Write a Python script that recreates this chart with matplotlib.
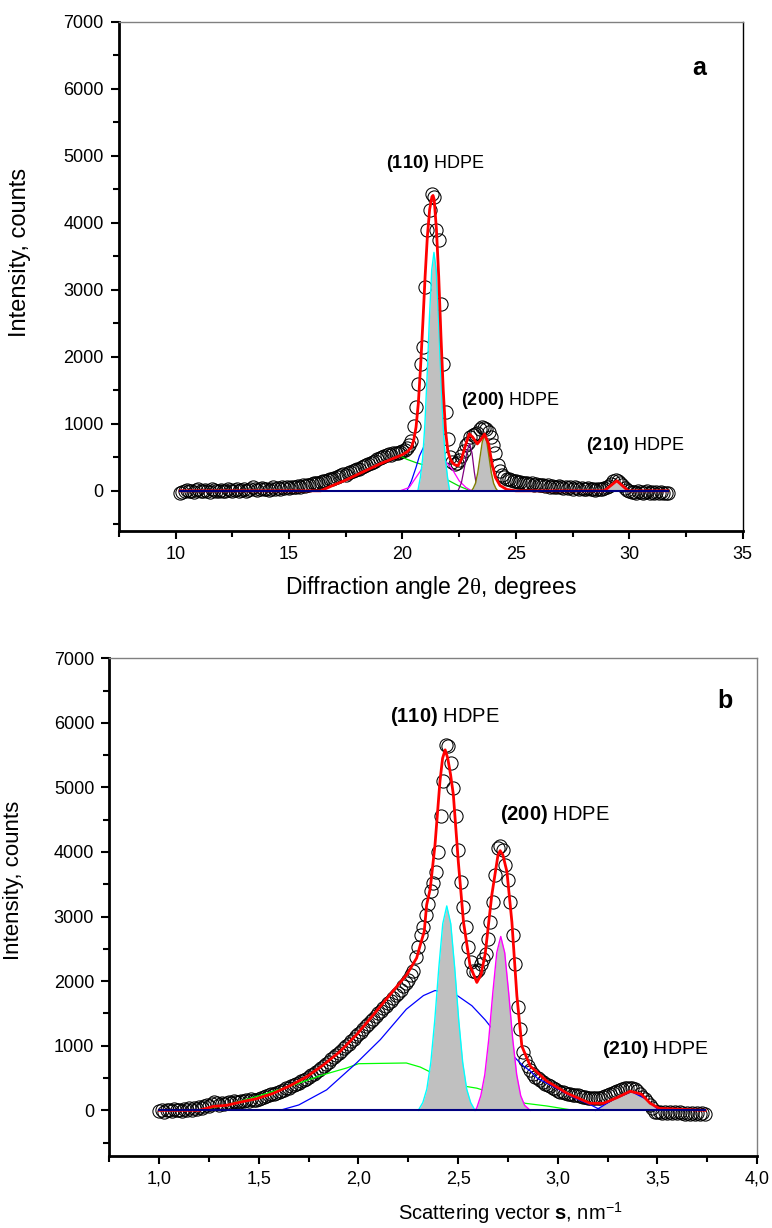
import numpy as np
import matplotlib.pyplot as plt
from matplotlib.ticker import MultipleLocator, FuncFormatter

plt.rcParams['font.family'] = ['Liberation Sans', 'DejaVu Sans']
plt.rcParams['mathtext.fontset'] = 'custom'
plt.rcParams['mathtext.rm'] = 'Liberation Sans'
plt.rcParams['mathtext.bf'] = 'Liberation Sans:bold'
plt.rcParams['mathtext.it'] = 'Liberation Serif'

# ---------------- panel a : intensity vs 2theta ----------------
obs_a_start, obs_a_step = 10.2, 0.1
obs_a_y = [-30, -20, -10, 10, -10, 0, -20, 10, 20, 0,
           -10, 10, 0, -20, 20, 10, -10, 0, 10, -10,
           0, 20, 10, -10, 10, 30, 0, 10, 20, 0,
           10, 30, 50, 20, 10, 30, 40, 20, 30, 10,
           30, 50, 20, 40, 30, 50, 40, 60, 40, 50,
           60, 50, 70, 60, 80, 70, 90, 80, 100, 110,
           120, 110, 130, 150, 140, 160, 180, 170, 190, 210,
           220, 230, 250, 240, 270, 280, 300, 310, 320, 330,
           350, 370, 380, 400, 420, 430, 450, 470, 490, 500,
           520, 530, 550, 540, 560, 570, 560, 580, 590, 610,
           640, 690, 747, 972, 1246, 1595, 1900, 2143, 3040, 3887,
           4200, 4435, 4385, 3900, 3738, 2791, 1894, 1171, 773, 500,
           424, 400, 410, 460, 520, 600, 680, 720, 800, 830,
           850, 870, 920, 950, 940, 930, 880, 800, 680, 560,
           380, 290, 230, 200, 180, 170, 160, 150, 140, 130,
           130, 120, 110, 120, 100, 110, 90, 100, 90, 80,
           90, 70, 80, 60, 70, 50, 60, 70, 50, 40,
           60, 40, 50, 30, 50, 40, 20, 40, 30, 20,
           40, 20, 30, 10, 30, 20, 20, 40, 50, 70,
           100, 140, 160, 150, 120, 80, 40, 10, -10, -20,
           -20, -30, -10, -20, -30, -20, -10, -30, -20, -30,
           -20, -30, -20, -30, -40, -40]

fit_a_x = [10.2, 16.4, 17.0, 17.5, 18.0, 18.5, 19.0, 19.5, 19.8, 20.0, 20.2, 20.4, 20.5,
           20.6, 20.7, 20.8, 20.9, 21.0, 21.1, 21.2, 21.3, 21.35, 21.4, 21.5, 21.6, 21.7,
           21.8, 21.9, 22.0, 22.1, 22.2, 22.3, 22.45, 22.6, 22.8, 22.95, 23.1, 23.3, 23.45,
           23.62, 23.8, 23.95, 24.1, 24.3, 24.6, 25.0, 28.9, 29.45, 29.95, 31.7]
fit_a_y = [0, 0, 90, 160, 240, 320, 400, 470, 510, 540, 580, 650, 760,
           950, 1300, 1850, 2500, 3200, 3800, 4200, 4390, 4410, 4350, 3900, 3200, 2300,
           1500, 900, 600, 480, 420, 390, 374, 470, 700, 850, 800, 700, 760,
           847, 700, 400, 200, 80, 20, 0, 0, 150, 0, 0]

green_a_x = [16.4, 17.0, 17.5, 18.0, 18.5, 19.0, 19.5, 19.9, 20.2, 20.6, 21.0, 21.5, 22.0, 22.5, 23.0]
green_a_y = [0, 90, 160, 240, 320, 400, 470, 520, 470, 420, 380, 300, 160, 70, 0]

blue_a_x = [20.2, 20.4, 20.6, 20.75, 21.0, 21.3, 21.6, 21.9]
blue_a_y = [0, 150, 350, 520, 700, 800, 600, 0]

magenta_a_x = [19.9, 20.3, 20.6, 21.0, 21.3, 21.6, 21.9, 22.2, 22.5, 22.8, 23.05]
magenta_a_y = [0, 50, 200, 400, 440, 460, 440, 320, 150, 50, 0]

purple_a_x = [22.45, 22.6, 22.75, 22.85, 22.97, 23.07, 23.17, 23.3]
purple_a_y = [0, 120, 380, 600, 700, 560, 280, 0]

p110_a_x = [20.68, 20.79, 20.89, 20.99, 21.09, 21.19, 21.29, 21.39, 21.49, 21.59, 21.69,
            21.79, 21.89, 21.99, 22.08]
p110_a_y = [0, 200, 480, 990, 1730, 2580, 3290, 3560, 3290, 2580, 1730, 990, 480, 200, 0]

p200_a_x = [23.04, 23.12, 23.22, 23.32, 23.42, 23.52, 23.62, 23.72, 23.82, 23.92, 24.02, 24.12, 24.2]
p200_a_y = [0, 36, 111, 268, 500, 728, 825, 728, 500, 268, 111, 36, 0]

p210_a_x = [28.9, 29.45, 29.95]
p210_a_y = [0, 150, 0]

# ---------------- panel b : intensity vs scattering vector ----------------
obs_b_start, obs_b_step = 1.0, 0.0125
obs_b_y = [-10, 0, -20, 10, 0, -10, 20, 0,
           10, -10, 20, 0, 30, 10, 40, 20,
           50, 30, 60, 80, 60, 100, 130, 110,
           90, 120, 100, 110, 130, 110, 140, 130,
           135, 150, 140, 160, 150, 170, 160, 165,
           180, 190, 200, 220, 230, 250, 260, 275,
           290, 300, 320, 340, 350, 370, 390, 410,
           430, 450, 470, 490, 510, 540, 570, 600,
           630, 660, 690, 720, 750, 790, 820, 850,
           880, 920, 960, 1000, 1030, 1070, 1110, 1150,
           1180, 1220, 1260, 1300, 1340, 1380, 1420, 1460,
           1500, 1540, 1580, 1620, 1660, 1700, 1740, 1780,
           1820, 1870, 1920, 1970, 2020, 2090, 2160, 2380,
           2526, 2708, 2838, 3020, 3202, 3400, 3513, 3695,
           4007, 4553, 5098, 5650, 5640, 5384, 4993, 4552,
           4032, 3540, 3150, 2838, 2526, 2292, 2162, 2136,
           2180, 2266, 2350, 2422, 2656, 2916, 3228, 3643,
           4059, 4085, 4033, 3800, 3565, 3228, 2708, 2266,
           1600, 1252, 900, 780, 690, 628, 570, 520,
           499, 470, 440, 410, 390, 370, 350, 330,
           300, 291, 280, 270, 260, 250, 240, 239,
           230, 220, 210, 200, 195, 190, 187, 185,
           187, 190, 200, 215, 230, 250, 265, 280,
           300, 320, 335, 343, 350, 345, 343, 330,
           300, 260, 213, 170, 135, 80, 30, -21,
           -30, -20, -40, -30, -40, -30, -40, -30,
           -40, -30, -40, -50, -40, -50, -40, -50,
           -40, -50, -40, -60]

fit_b_x = [1.0, 1.2, 1.27, 1.338, 1.41, 1.488, 1.57, 1.656, 1.74, 1.823, 1.907, 1.99, 2.075,
           2.158, 2.242, 2.292, 2.31, 2.33, 2.342, 2.36, 2.384, 2.409, 2.422,
           2.435, 2.448, 2.462, 2.476, 2.501, 2.527, 2.56, 2.594, 2.615, 2.636, 2.669, 2.69,
           2.70, 2.711, 2.725, 2.745, 2.77, 2.795, 2.82, 2.862, 2.946, 3.046, 3.162, 3.23,
           3.3, 3.364, 3.42, 3.464, 3.51, 3.74]
fit_b_y = [0, 0, 60, 78, 130, 180, 260, 380, 520, 700, 910, 1170, 1480,
           1790, 2100, 2360, 2560, 2770, 3180, 3430, 4110, 5098, 5450,
           5581, 5450, 5200, 4890, 3850, 2915, 2240, 1980, 2100, 2422, 3331, 3750,
           3950, 4020, 3950, 3695, 2915, 1772, 993, 686, 452, 265, 109, 109,
           200, 296, 250, 109, 30, 0]

green_b_x = [1.195, 1.338, 1.488, 1.656, 1.823, 1.94, 2.0, 2.24, 2.31, 2.49, 2.594, 2.837, 2.946, 3.08]
green_b_y = [0, 83, 213, 374, 551, 655, 722, 733, 670, 395, 343, 109, 67, 0]

blue_b_x = [1.605, 1.70, 1.84, 1.99, 2.11, 2.24, 2.326, 2.384, 2.485, 2.569, 2.636, 2.70,
            2.76, 2.795, 2.83, 2.862, 2.90, 2.946, 3.0, 3.046, 3.1, 3.162, 3.2, 3.23]
blue_b_y = [0, 83, 317, 733, 1096, 1565, 1777, 1855, 1800, 1620, 1400, 1150,
            900, 785, 680, 610, 490, 420, 330, 250, 170, 90, 30, 0]

p110_b_x = [2.30, 2.323, 2.343, 2.363, 2.383, 2.403, 2.423, 2.443, 2.463, 2.483, 2.503,
            2.523, 2.543, 2.563, 2.585]
p110_b_y = [0, 121, 330, 743, 1401, 2203, 2891, 3165, 2891, 2203, 1401, 743, 330, 121, 0]

p200_b_x = [2.585, 2.594, 2.614, 2.634, 2.654, 2.674, 2.694, 2.714, 2.734, 2.754, 2.774,
            2.794, 2.814, 2.834, 2.862]
p200_b_y = [0, 40, 228, 554, 1106, 1814, 2440, 2692, 2440, 1814, 1106, 554, 228, 77, 0]

p210_b_x = [3.19, 3.28, 3.37, 3.44, 3.51]
p210_b_y = [0, 170, 290, 180, 0]

obs_a_x = obs_a_start + obs_a_step * np.arange(len(obs_a_y))
obs_b_x = obs_b_start + obs_b_step * np.arange(len(obs_b_y))

fig = plt.figure(figsize=(7.72, 12.28), dpi=100)
ax_a = fig.add_axes([0.154, 0.5676, 0.808, 0.4145])
ax_b = fig.add_axes([0.1418, 0.059, 0.8387, 0.405])

RED = '#ff0000'
GRAY = '#c0c0c0'
NAVY = '#000080'


def style_axes(ax, right_color):
    for side in ['left', 'bottom']:
        ax.spines[side].set_linewidth(2.0)
        ax.spines[side].set_color('black')
    ax.spines['top'].set_linewidth(1.0)
    ax.spines['top'].set_color('#808080')
    ax.spines['right'].set_linewidth(1.0)
    ax.spines['right'].set_color(right_color)
    ax.tick_params(which='both', direction='out', width=1.5, top=False, right=False,
                   labelsize=13, color='black')
    ax.tick_params(which='major', length=6, pad=5)
    ax.tick_params(which='minor', length=4)
    ax.yaxis.set_major_locator(MultipleLocator(1000))
    ax.yaxis.set_minor_locator(MultipleLocator(500))


def draw_obs(ax, x, y):
    ax.plot(x, y, linestyle='none', marker='o', markersize=9.5, markerfacecolor='none',
            markeredgecolor='black', markeredgewidth=0.75, zorder=2)


def draw_fill(ax, x, y, edge):
    ax.fill_between(x, y, 0, color=GRAY, linewidth=0, zorder=4)
    ax.plot(x, y, color=edge, linewidth=1.0, zorder=4.5)


# ---- panel a ----
draw_obs(ax_a, obs_a_x, obs_a_y)
ax_a.plot(green_a_x, green_a_y, color='#00dd00', linewidth=0.9, zorder=3)
ax_a.plot(blue_a_x, blue_a_y, color='#0000ff', linewidth=0.9, zorder=3)
ax_a.plot(magenta_a_x, magenta_a_y, color='#ff00ff', linewidth=0.9, zorder=3)
ax_a.plot(purple_a_x, purple_a_y, color='#800080', linewidth=0.9, zorder=3)
draw_fill(ax_a, p110_a_x, p110_a_y, '#00ffff')
draw_fill(ax_a, p200_a_x, p200_a_y, '#808000')
draw_fill(ax_a, p210_a_x, p210_a_y, '#0000ff')
ax_a.plot(fit_a_x, fit_a_y, color=RED, linewidth=2.0, zorder=5)
ax_a.plot([obs_a_x[0], obs_a_x[-1]], [0, 0], color=NAVY, linewidth=1.5, zorder=6)

style_axes(ax_a, 'black')
ax_a.set_xlim(7.5, 35)
ax_a.set_ylim(-600, 7000)
ax_a.xaxis.set_major_locator(MultipleLocator(5))
ax_a.xaxis.set_minor_locator(MultipleLocator(2.5))
ax_a.xaxis.set_major_formatter(FuncFormatter(lambda v, p: '' if v < 10 else f'{v:.0f}'))
ax_a.set_xlabel(r'Diffraction angle 2$\theta$, degrees', fontsize=16.5, labelpad=8)
ax_a.set_ylabel('Intensity, counts', fontsize=17)
ax_a.yaxis.set_label_coords(-0.141, 0.548)
ax_a.text(33.1, 6309, 'a', fontsize=18, fontweight='bold', ha='center', va='center')
ax_a.text(21.42, 4889, r'$\mathbf{(110)}$ HDPE', fontsize=13, ha='center', va='center')
ax_a.text(24.77, 1345, r'$\mathbf{(200)}$ HDPE', fontsize=13, ha='center', va='center')
ax_a.text(30.28, 673, r'$\mathbf{(210)}$ HDPE', fontsize=13, ha='center', va='center')

# ---- panel b ----
draw_obs(ax_b, obs_b_x, obs_b_y)
ax_b.plot(green_b_x, green_b_y, color='#00ff00', linewidth=0.9, zorder=3)
ax_b.plot(blue_b_x, blue_b_y, color='#0000ff', linewidth=0.9, zorder=3)
draw_fill(ax_b, p110_b_x, p110_b_y, '#00ffff')
draw_fill(ax_b, p200_b_x, p200_b_y, '#ff00ff')
draw_fill(ax_b, p210_b_x, p210_b_y, '#0000ff')
ax_b.plot(fit_b_x, fit_b_y, color=RED, linewidth=2.0, zorder=5)
ax_b.plot([obs_b_x[0], obs_b_x[-1]], [0, 0], color=NAVY, linewidth=1.5, zorder=6)

style_axes(ax_b, '#808080')
ax_b.set_xlim(0.75, 4.0)
ax_b.set_ylim(-700, 7000)
ax_b.xaxis.set_major_locator(MultipleLocator(0.5))
ax_b.xaxis.set_minor_locator(MultipleLocator(0.25))
ax_b.xaxis.set_major_formatter(FuncFormatter(
    lambda v, p: '' if v < 1 else f'{v:.1f}'.replace('.', ',')))
ax_b.set_ylabel('Intensity, counts', fontsize=16)
ax_b.yaxis.set_label_coords(-0.132, 0.554)
fig.text(510 / 772, 1 - 1213 / 1228, r'Scattering vector $\mathbf{s}$, nm$^{-1}$',
         fontsize=14.5, ha='center', va='center')
ax_b.text(3.842, 6345, 'b', fontsize=18, fontweight='bold', ha='center', va='center')
ax_b.text(2.435, 6096, r'$\mathbf{(110)}$ HDPE', fontsize=14.5, ha='center', va='center')
ax_b.text(2.987, 4583, r'$\mathbf{(200)}$ HDPE', fontsize=14.5, ha='center', va='center')
ax_b.text(3.49, 935, r'$\mathbf{(210)}$ HDPE', fontsize=14, ha='center', va='center')

fig.savefig('out.png', dpi=100)
